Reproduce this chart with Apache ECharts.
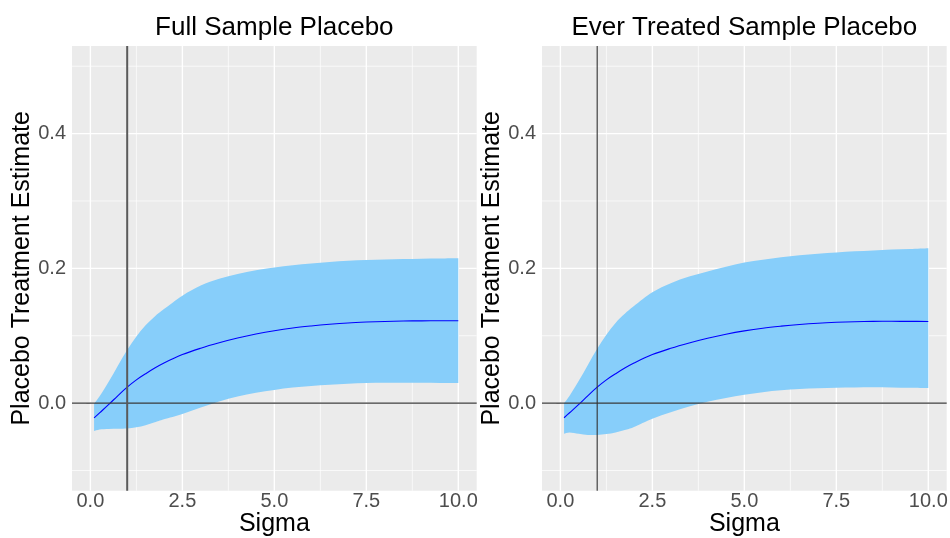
<!DOCTYPE html>
<html>
<head>
<meta charset="utf-8">
<script src="https://cdn.jsdelivr.net/npm/echarts@6/dist/echarts.min.js"></script>
<style>
  html, body { margin: 0; padding: 0; background: #ffffff; }
  #chart { width: 950px; height: 538px; }
</style>
</head>
<body>
<div id="chart"></div>
<script>
// Bandwidth values (Sigma) at which the placebo effect was estimated
const sigma = [0.1, 0.25, 0.5, 0.75, 1, 1.25, 1.5, 1.75, 2, 2.5, 3, 3.5, 4, 4.5, 5, 5.5, 6, 6.5, 7, 7.5, 8, 8.5, 9, 9.5, 10];

// Full sample: point estimate and confidence band
const fullEst = [-0.022, -0.0145, -0.002, 0.0112, 0.0237, 0.0345, 0.0435, 0.052, 0.0595, 0.072, 0.0815, 0.0895, 0.0965, 0.1025, 0.1075, 0.1115, 0.1145, 0.117, 0.119, 0.1203, 0.1212, 0.1218, 0.1221, 0.1222, 0.1222];
const fullLo  = [-0.0415, -0.039, -0.0383, -0.038, -0.0378, -0.036, -0.033, -0.0285, -0.024, -0.016, -0.0065, 0.0025, 0.0098, 0.0155, 0.0195, 0.023, 0.0253, 0.0272, 0.0287, 0.0298, 0.0302, 0.0303, 0.0302, 0.030, 0.0298];
const fullHi  = [-0.001, 0.010, 0.032, 0.056, 0.079, 0.099, 0.1155, 0.1285, 0.1395, 0.1595, 0.1745, 0.1845, 0.1915, 0.197, 0.2012, 0.2045, 0.2072, 0.2095, 0.2112, 0.2124, 0.2132, 0.2138, 0.2143, 0.2146, 0.2149];

// Ever-treated sample: point estimate and confidence band
const everEst = [-0.0217, -0.0143, -0.002, 0.0112, 0.0237, 0.0345, 0.0435, 0.052, 0.0595, 0.072, 0.0813, 0.0892, 0.0962, 0.1022, 0.1072, 0.1112, 0.1142, 0.1167, 0.1186, 0.1199, 0.1208, 0.1213, 0.1214, 0.1213, 0.1211];
const everLo  = [-0.0454, -0.0435, -0.0455, -0.0472, -0.0474, -0.046, -0.0435, -0.040, -0.0355, -0.0232, -0.0135, -0.005, 0.002, 0.0075, 0.0125, 0.0162, 0.019, 0.0208, 0.022, 0.0228, 0.0232, 0.0234, 0.0232, 0.0228, 0.0224];
const everHi  = [0.0, 0.011, 0.033, 0.057, 0.0805, 0.1015, 0.119, 0.1325, 0.144, 0.1645, 0.178, 0.188, 0.1955, 0.2025, 0.2085, 0.2128, 0.2165, 0.2195, 0.2218, 0.2237, 0.2252, 0.2266, 0.2278, 0.2289, 0.230];

// Axis breaks and ranges
const xBreaks = [0, 2.5, 5, 7.5, 10];
const xMinorBreaks = [1.25, 3.75, 6.25, 8.75];
const yBreaks = [0, 0.2, 0.4];
const yMinorBreaks = [-0.1, 0.1, 0.3, 0.5];
const xRange = [-0.5, 10.5];
const yRange = [-0.13, 0.53];

// Reference lines
const refSigma = 1;
const refEstimate = 0;

const panelTitles = ['Full Sample Placebo', 'Ever Treated Sample Placebo'];
const xTitle = 'Sigma';
const yTitle = 'Placebo Treatment Estimate';

const FONT = '"Liberation Sans", Arial, Helvetica, sans-serif';
const BAND_COLOR = '#87CEFA';
const PANEL_BG = '#EBEBEB';

const panels = [
  { est: fullEst, lo: fullLo, hi: fullHi, left: 72, vlineColor: '#5a5a5a', vlineWidth: 2 },
  { est: everEst, lo: everLo, hi: everHi, left: 542, vlineColor: '#333333', vlineWidth: 1.1 }
];
const PANEL_TOP = 46;
const PANEL_W = 404.7;
const PANEL_H = 444.7;

function fmt(v) { return v.toFixed(1); }

// Catmull-Rom spline through pixel points, as cubic Bezier path commands
function splineCommands(pts) {
  let d = '';
  for (let i = 0; i < pts.length - 1; i++) {
    const p0 = pts[Math.max(0, i - 1)], p1 = pts[i], p2 = pts[i + 1], p3 = pts[Math.min(pts.length - 1, i + 2)];
    const c1x = p1[0] + (p2[0] - p0[0]) / 6, c1y = p1[1] + (p2[1] - p0[1]) / 6;
    const c2x = p2[0] - (p3[0] - p1[0]) / 6, c2y = p2[1] - (p3[1] - p1[1]) / 6;
    d += ' C' + c1x + ' ' + c1y + ' ' + c2x + ' ' + c2y + ' ' + p2[0] + ' ' + p2[1];
  }
  return d;
}

// vertical lines across a panel at the given sigma values
function vLines(idx, values, color, width, z) {
  return {
    type: 'custom', xAxisIndex: idx, yAxisIndex: idx, silent: true, z: z,
    data: values.map(v => [v, 0]),
    renderItem: (params, api) => {
      const cs = params.coordSys;
      const x = api.coord([api.value(0), 0])[0];
      return { type: 'line', shape: { x1: x, y1: cs.y, x2: x, y2: cs.y + cs.height },
               style: { stroke: color, lineWidth: width } };
    }
  };
}

// horizontal lines across a panel at the given estimate values
function hLines(idx, values, color, width, z) {
  return {
    type: 'custom', xAxisIndex: idx, yAxisIndex: idx, silent: true, z: z,
    data: values.map(v => [0, v]),
    renderItem: (params, api) => {
      const cs = params.coordSys;
      const y = api.coord([0, api.value(1)])[1];
      return { type: 'line', shape: { x1: cs.x, y1: y, x2: cs.x + cs.width, y2: y },
               style: { stroke: color, lineWidth: width } };
    }
  };
}

// confidence band: smooth upper edge, straight end, smooth lower edge back
function bandSeries(idx, lo, hi) {
  return {
    type: 'custom', xAxisIndex: idx, yAxisIndex: idx, silent: true, z: 3,
    data: sigma.map((s, i) => [s, lo[i], hi[i]]),
    renderItem: (params, api) => {
      if (params.dataIndex !== 0) return null;
      const upper = sigma.map((s, i) => api.coord([s, hi[i]]));
      const lower = sigma.map((s, i) => api.coord([s, lo[i]])).reverse();
      let d = 'M' + upper[0][0] + ' ' + upper[0][1] + splineCommands(upper);
      d += ' L' + lower[0][0] + ' ' + lower[0][1] + splineCommands(lower) + ' Z';
      return { type: 'path', shape: { pathData: d }, style: { fill: BAND_COLOR } };
    }
  };
}

const grids = [], xAxes = [], yAxes = [], titles = [], series = [];

panels.forEach((p, idx) => {
  grids.push({
    left: p.left, top: PANEL_TOP, width: PANEL_W, height: PANEL_H,
    show: true, backgroundColor: PANEL_BG, borderWidth: 0,
    containLabel: false, outerBoundsMode: 'none'
  });
  titles.push({
    text: panelTitles[idx],
    left: p.left + PANEL_W / 2, top: 15, textAlign: 'center', padding: 0,
    textStyle: { fontFamily: FONT, fontSize: 26, fontWeight: 'normal', color: '#000000' }
  });
  xAxes.push({
    type: 'value', gridIndex: idx, min: xRange[0], max: xRange[1],
    name: xTitle, nameLocation: 'middle', nameGap: 21, nameMoveOverlap: false,
    nameTextStyle: { fontFamily: FONT, fontSize: 25, color: '#000000' },
    axisLine: { show: false },
    axisTick: { show: true, length: 4, lineStyle: { color: '#333333', width: 1 }, customValues: xBreaks },
    axisLabel: { show: true, margin: 1, fontFamily: FONT, fontSize: 20, color: '#4D4D4D',
                 customValues: xBreaks, formatter: fmt, showMinLabel: true, showMaxLabel: true },
    splitLine: { show: false }
  });
  yAxes.push({
    type: 'value', gridIndex: idx, min: yRange[0], max: yRange[1],
    name: yTitle, nameLocation: 'middle', nameGap: 37, nameMoveOverlap: false,
    nameTextStyle: { fontFamily: FONT, fontSize: 25, color: '#000000' },
    axisLine: { show: false },
    axisTick: { show: true, length: 4, lineStyle: { color: '#333333', width: 1 }, customValues: yBreaks },
    axisLabel: { show: true, margin: 6, fontFamily: FONT, fontSize: 20, color: '#4D4D4D',
                 customValues: yBreaks, formatter: fmt },
    splitLine: { show: false }
  });

  // panel grid lines
  series.push(vLines(idx, xMinorBreaks, '#ffffff', 0.7, 1));
  series.push(hLines(idx, yMinorBreaks, '#ffffff', 0.7, 1));
  series.push(vLines(idx, xBreaks, '#ffffff', 1.4, 2));
  series.push(hLines(idx, yBreaks, '#ffffff', 1.4, 2));

  // confidence band and point estimate
  series.push(bandSeries(idx, p.lo, p.hi));
  series.push({
    type: 'line', xAxisIndex: idx, yAxisIndex: idx, z: 4, silent: true,
    data: sigma.map((s, i) => [s, p.est[i]]),
    showSymbol: false, smooth: 0.35,
    lineStyle: { color: '#0000FF', width: 1.1 }
  });

  // reference lines at zero effect and sigma = 1
  series.push(hLines(idx, [refEstimate], '#3a3a3a', 1.2, 5));
  series.push(vLines(idx, [refSigma], p.vlineColor, p.vlineWidth, 5));
});

const chart = echarts.init(document.getElementById('chart'), null, { renderer: 'canvas' });
chart.setOption({
  animation: false,
  backgroundColor: '#ffffff',
  title: titles,
  grid: grids,
  xAxis: xAxes,
  yAxis: yAxes,
  series: series
});
</script>
</body>
</html>
